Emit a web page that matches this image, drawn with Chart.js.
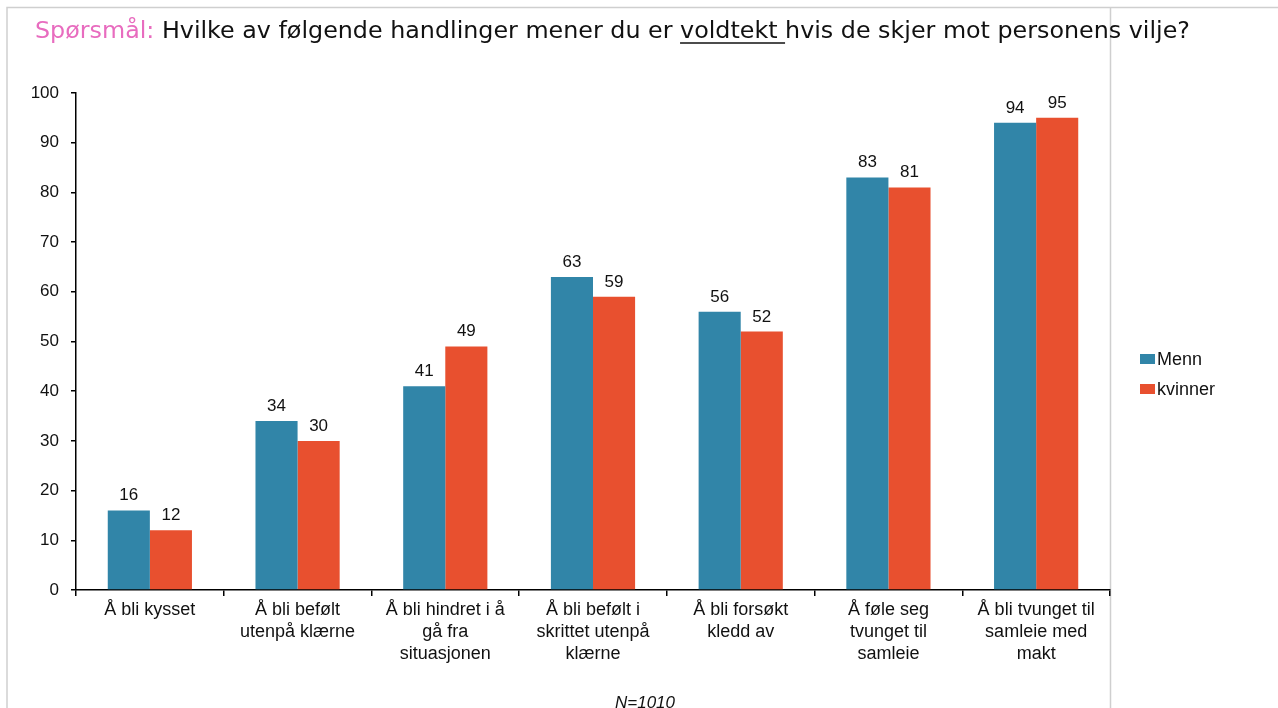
<!DOCTYPE html>
<html lang="no">
<head>
<meta charset="utf-8">
<title>Voldtekt – holdninger</title>
<script src="https://cdn.jsdelivr.net/npm/chart.js@4.4.1/dist/chart.umd.min.js"></script>
<style>
  html, body { margin: 0; padding: 0; background: #ffffff; }
  #wrap { width: 1278px; height: 708px; position: relative; }
</style>
</head>
<body>
<div id="wrap"><canvas id="c" width="1278" height="708"></canvas></div>
<script>
// Survey answers (percent) per action
const categories = [
  'Å bli kysset',
  ['Å bli befølt', 'utenpå klærne'],
  ['Å bli hindret i å', 'gå fra', 'situasjonen'],
  ['Å bli befølt i', 'skrittet utenpå', 'klærne'],
  ['Å bli forsøkt', 'kledd av'],
  ['Å føle seg', 'tvunget til', 'samleie'],
  ['Å bli tvunget til', 'samleie med', 'makt']
];
const menn = [16, 34, 41, 63, 56, 83, 94];
const kvinner = [12, 30, 49, 59, 52, 81, 95];
const yTicks = [0, 10, 20, 30, 40, 50, 60, 70, 80, 90, 100];

const seriesNames = ['Menn', 'kvinner'];
const seriesColors = ['#3185a8', '#e8502f'];

const titleLead = 'Spørsmål:';
const titleParts = [' Hvilke av følgende handlinger mener du er ', 'voldtekt ', 'hvis de skjer mot personens vilje?'];
const footNote = 'N=1010';

const AXIS_FONT = 'Arial, "Liberation Sans", sans-serif';

// Frame lines, title, legend and footnote around the plot
const decorations = {
  id: 'decorations',
  beforeDraw(chart) {
    const ctx = chart.ctx;
    ctx.save();
    ctx.fillStyle = '#ffffff';
    ctx.fillRect(0, 0, chart.width, chart.height);
    ctx.strokeStyle = '#cfcfcf';
    ctx.lineWidth = 1.5;
    ctx.beginPath();
    ctx.moveTo(7, 708); ctx.lineTo(7, 7.5); ctx.lineTo(1278, 7.5);
    ctx.moveTo(1110.5, 7.5); ctx.lineTo(1110.5, 708);
    ctx.stroke();
    ctx.restore();
  },
  afterDraw(chart) {
    const ctx = chart.ctx;
    ctx.save();
    // title, sized to span its line
    const full = titleLead + titleParts.join('');
    let size = 20;
    ctx.font = size + 'px "DejaVu Sans", Verdana, sans-serif';
    const w = ctx.measureText(full).width;
    size = size * 1155 / w;
    ctx.font = size.toFixed(2) + 'px "DejaVu Sans", Verdana, sans-serif';
    ctx.textBaseline = 'alphabetic';
    ctx.textAlign = 'left';
    let x = 35;
    const base = 38;
    ctx.fillStyle = '#e86cbf';
    ctx.fillText(titleLead, x, base);
    x += ctx.measureText(titleLead).width;
    ctx.fillStyle = '#111111';
    titleParts.forEach((p, i) => {
      const pw = ctx.measureText(p).width;
      ctx.fillText(p, x, base);
      if (i === 1) {
        ctx.strokeStyle = '#111111';
        ctx.lineWidth = 1.3;
        ctx.beginPath();
        ctx.moveTo(x, base + 5);
        ctx.lineTo(x + pw, base + 5);
        ctx.stroke();
      }
      x += pw;
    });

    // legend
    ctx.font = '18px ' + AXIS_FONT;
    ctx.textBaseline = 'middle';
    chart.data.datasets.forEach((ds, i) => {
      const cy = 359 + i * 30;
      ctx.fillStyle = ds.backgroundColor;
      ctx.fillRect(1140, cy - 5, 15, 10);
      ctx.fillStyle = '#111111';
      ctx.fillText(ds.label, 1157, cy + 1);
    });

    // footnote
    ctx.font = 'italic 17px ' + AXIS_FONT;
    ctx.textAlign = 'center';
    ctx.fillStyle = '#111111';
    ctx.fillText(footNote, 645, 703);

    // value labels above bars
    ctx.font = '17px ' + AXIS_FONT;
    ctx.textBaseline = 'alphabetic';
    chart.data.datasets.forEach((ds, di) => {
      const meta = chart.getDatasetMeta(di);
      meta.data.forEach((bar, j) => {
        ctx.fillText(String(ds.data[j]), bar.x, bar.y - 10);
      });
    });
    ctx.restore();
  }
};

new Chart(document.getElementById('c'), {
  type: 'bar',
  data: {
    labels: categories,
    datasets: [
      { label: seriesNames[0], data: menn, backgroundColor: seriesColors[0] },
      { label: seriesNames[1], data: kvinner, backgroundColor: seriesColors[1] }
    ]
  },
  options: {
    responsive: false,
    animation: false,
    devicePixelRatio: 1,
    layout: { padding: { top: 93, left: 16, right: 168, bottom: 38 } },
    datasets: { bar: { categoryPercentage: 0.57, barPercentage: 1.0 } },
    plugins: { legend: { display: false }, tooltip: { enabled: false }, title: { display: false } },
    scales: {
      x: {
        afterFit(s) { s.height = 80; },
        grid: { display: true, offset: true, drawOnChartArea: false, tickLength: 6, color: '#000000', lineWidth: 1.5 },
        border: { display: true, color: '#000000', width: 1.5 },
        ticks: {
          autoSkip: false, maxRotation: 0, minRotation: 0, padding: 3,
          color: '#111111', font: { family: AXIS_FONT, size: 18, lineHeight: 1.22 }
        }
      },
      y: {
        min: 0, max: 100,
        afterFit(s) { s.width = 60; },
        afterBuildTicks(s) { s.ticks = yTicks.map(v => ({ value: v })); },
        grid: { display: true, drawOnChartArea: false, tickLength: 5, color: '#000000', lineWidth: 1.5 },
        border: { display: true, color: '#000000', width: 1.5 },
        ticks: {
          padding: 12, color: '#111111',
          font: { family: AXIS_FONT, size: 17 }
        }
      }
    }
  },
  plugins: [decorations]
});
</script>
</body>
</html>
